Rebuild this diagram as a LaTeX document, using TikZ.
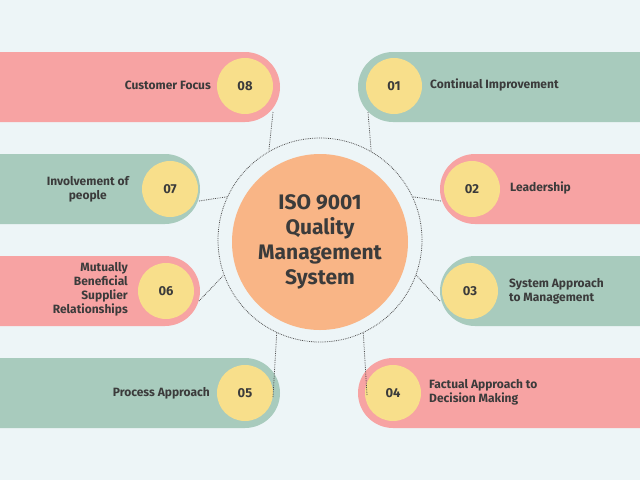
\documentclass[tikz,border=0pt]{standalone}
\usepackage{fontspec}
\setmainfont{Fira Sans}
\definecolor{bgc}{RGB}{237,245,247}
\definecolor{pinkcol}{RGB}{247,163,163}
\definecolor{greencol}{RGB}{168,203,189}
\definecolor{yelcol}{RGB}{248,223,139}
\definecolor{orcol}{RGB}{249,181,134}
\definecolor{txtcol}{RGB}{59,59,59}
\definecolor{linecol}{RGB}{80,80,80}
\begin{document}
\begin{tikzpicture}[x=1pt,y=-1pt,
  pinkc/.style={fill=pinkcol},
  greenc/.style={fill=greencol},
  num/.style={circle,minimum size=56pt,inner sep=0pt,fill=yelcol,text=txtcol,font=\bfseries\fontsize{13}{13}\selectfont},
  lbl/.style={text=txtcol,font=\bfseries\fontsize{12}{14}\selectfont,inner sep=0pt},
  conn/.style={densely dotted,line width=0.8pt,draw=linecol}]
\fill[bgc] (0,0) rectangle (640,480);
\useasboundingbox (0,0) rectangle (640,480);
\begin{scope}
\clip (0,0) rectangle (640,480);
\fill[pinkc,rounded corners=35pt] (-60,52) rectangle (280,122);
\fill[greenc,rounded corners=35pt] (358,52) rectangle (700,122);
\fill[greenc,rounded corners=35pt] (-60,154) rectangle (200,224);
\fill[pinkc,rounded corners=35pt] (440,154) rectangle (700,224);
\fill[pinkc,rounded corners=35pt] (-60,256) rectangle (200,326);
\fill[greenc,rounded corners=35pt] (440,256) rectangle (700,326);
\fill[greenc,rounded corners=35pt] (-60,358) rectangle (280,428);
\fill[pinkc,rounded corners=35pt] (358,358) rectangle (700,428);
\end{scope}
\node[num] (n08) at (245,86) {08};
\node[num] (n01) at (394,86) {01};
\node[num] (n07) at (170,189) {07};
\node[num] (n02) at (472,189) {02};
\node[num] (n06) at (166,291) {06};
\node[num] (n03) at (470,291) {03};
\node[num] (n05) at (245,393) {05};
\node[num] (n04) at (393,393) {04};
\node[lbl,anchor=east] (t08) at (211,85) {Customer Focus};
\node[lbl,anchor=west] (t01) at (430,85) {Continual Improvement};
\node[lbl,anchor=east,align=center] (t07) at (129,189) {Involvement of\\people};
\node[lbl,anchor=west] (t02) at (510,188) {Leadership};
\node[lbl,anchor=east,align=right] (t06) at (128,289) {Mutually\\Beneficial\\Supplier\\Relationships};
\node[lbl,anchor=west,align=left] (t03) at (509,291) {System Approach\\to Management};
\node[lbl,anchor=east] (t05) at (210,393) {Process Approach};
\node[lbl,anchor=west,align=left] (t04) at (429,392) {Factual Approach to\\Decision Making};
\node[circle,minimum size=204pt,inner sep=0pt,conn] (ring) at (320,240) {};
\node[circle,minimum size=176pt,inner sep=0pt,fill=orcol,text=txtcol,
  font=\bfseries\fontsize{21}{25}\selectfont,align=center] (core) at (320,242) {ISO 9001\\Quality\\Management\\System};
\coordinate (p08) at (273,112); \coordinate (p01) at (368,112);
\coordinate (p07) at (199,201); \coordinate (p02) at (441,201);
\coordinate (p06) at (199,301); \coordinate (p03) at (440,301);
\coordinate (p05) at (273,397); \coordinate (p04) at (367,395);
\draw[conn] (p08) -- (ring.120);
\draw[conn] (p01) -- (ring.60);
\draw[conn] (p07) -- (ring.155);
\draw[conn] (p02) -- (ring.25);
\draw[conn] (p06) -- (ring.200);
\draw[conn] (p03) -- (ring.340);
\draw[conn] (p05) -- (ring.245);
\draw[conn] (p04) -- (ring.295);
\end{tikzpicture}
\end{document}
